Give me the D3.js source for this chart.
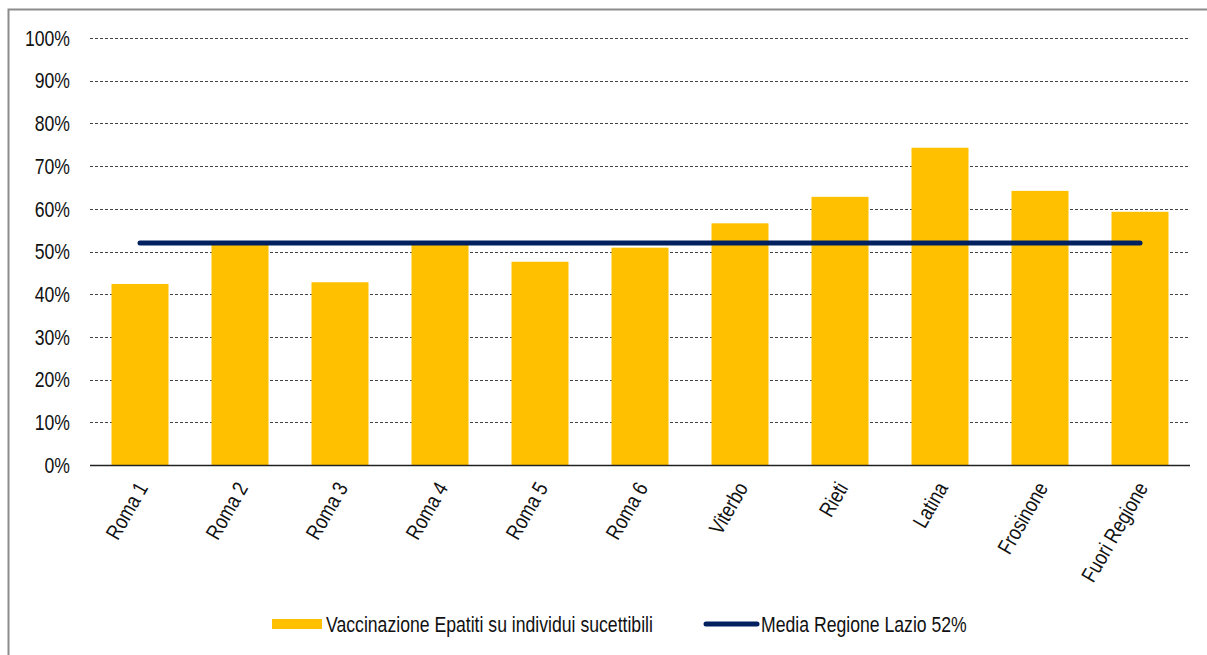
<!DOCTYPE html>
<html>
<head>
<meta charset="utf-8">
<script src="https://cdn.jsdelivr.net/npm/d3@7"></script>
<style>
  body { margin: 0; background: #fff; }
  svg { display: block; font-family: "Liberation Sans", Arial, sans-serif; }
</style>
</head>
<body>
<script>
// Vaccination coverage by health district vs. regional average
const categories = ["Roma 1", "Roma 2", "Roma 3", "Roma 4", "Roma 5", "Roma 6",
                    "Viterbo", "Rieti", "Latina", "Frosinone", "Fuori Regione"];
const coverage = [42.4, 51.6, 42.8, 51.7, 47.6, 50.9, 56.6, 62.8, 74.3, 64.2, 59.3];
const regionAverage = 52;
const yTicks = [0, 10, 20, 30, 40, 50, 60, 70, 80, 90, 100];
const barLabel = "Vaccinazione Epatiti su individui sucettibili";
const lineLabel = "Media Regione Lazio 52%";

const W = 1207, H = 655;
const FS = 21.5;          // font size
const NARROW = 0.82;      // horizontal squeeze for a narrow face

const svg = d3.select("body").append("svg").attr("width", W).attr("height", H);

// narrow text helper: positions a group, then squeezes the glyphs horizontally
function narrowText(parent, tx, ty, str, anchor, rotate) {
  const g = parent.append("g")
    .attr("transform", `translate(${tx},${ty})` + (rotate ? ` rotate(${rotate})` : "") + ` scale(${NARROW},1)`);
  g.append("text").attr("text-anchor", anchor).attr("dy", "0.36em")
    .attr("font-size", FS).attr("fill", "#111").text(str);
  return g;
}

// outer frame
svg.append("rect").attr("x", 8.5).attr("y", 9.5).attr("width", 1220).attr("height", 700)
  .attr("fill", "none").attr("stroke", "#8c8c8c").attr("stroke-width", 2);

const plotLeft = 90, plotRight = 1190, plotTop = 38, plotBottom = 465;

const x = d3.scaleBand().domain(categories).range([plotLeft, plotRight]).paddingInner(0.43).paddingOuter(0.215);
const y = d3.scaleLinear().domain([0, 100]).range([plotBottom, plotTop]);

// gridlines
svg.append("g").selectAll("line").data(yTicks.filter(d => d > 0)).join("line")
  .attr("x1", plotLeft).attr("x2", plotRight)
  .attr("y1", d => Math.round(y(d)) + 0.5).attr("y2", d => Math.round(y(d)) + 0.5)
  .attr("stroke", "#444").attr("stroke-width", 1).attr("stroke-dasharray", "3,2");

// y axis labels
const yl = svg.append("g");
yTicks.forEach(d => narrowText(yl, 70, y(d), d + "%", "end"));

// bars
svg.append("g").selectAll("rect").data(coverage).join("rect")
  .attr("x", (d, i) => x(categories[i]))
  .attr("width", x.bandwidth())
  .attr("y", d => y(d))
  .attr("height", d => y(0) - y(d))
  .attr("fill", "#FFC000");

// x axis baseline
svg.append("line").attr("x1", plotLeft).attr("x2", plotRight)
  .attr("y1", plotBottom + 0.5).attr("y2", plotBottom + 0.5)
  .attr("stroke", "#222").attr("stroke-width", 1.3);

// x labels, rotated
const cx = d => x(d) + x.bandwidth() / 2;
const xl = svg.append("g");
categories.forEach(c => narrowText(xl, cx(c) + 2, plotBottom + 19, c, "end", -60));

// regional average line
svg.append("line")
  .attr("x1", cx(categories[0])).attr("x2", cx(categories[categories.length - 1]))
  .attr("y1", y(regionAverage)).attr("y2", y(regionAverage))
  .attr("stroke", "#002060").attr("stroke-width", 5).attr("stroke-linecap", "round");

// legend
const lg = svg.append("g");
lg.append("rect").attr("x", 272).attr("y", 619).attr("width", 50).attr("height", 10).attr("fill", "#FFC000");
narrowText(lg, 326, 624, barLabel, "start");
lg.append("line").attr("x1", 706).attr("x2", 757).attr("y1", 624).attr("y2", 624)
  .attr("stroke", "#002060").attr("stroke-width", 5).attr("stroke-linecap", "round");
narrowText(lg, 761, 624, lineLabel, "start");
</script>
</body>
</html>
